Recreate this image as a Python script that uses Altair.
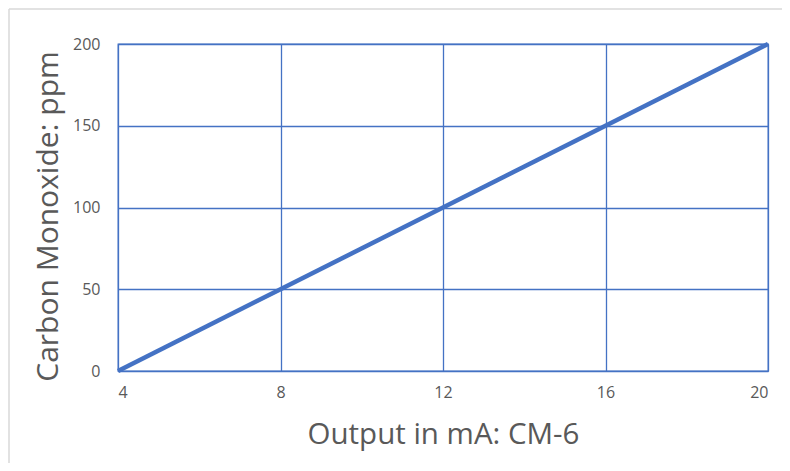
import altair as alt
import pandas as pd

# Data
output_ma = [4, 8, 12, 16, 20]
co_ppm = [0, 50, 100, 150, 200]
x_ticks = [4, 8, 12, 16, 20]
y_ticks = [0, 50, 100, 150, 200]

df = pd.DataFrame({"mA": output_ma, "ppm": co_ppm})

W, H = 650, 327
BLUE = "#4472C4"
GRAY = "#595959"
FONT = "Open Sans"

one = pd.DataFrame({"k": [0]})
frame_top = alt.Chart(one).mark_rule(
    color="#d9d9d9", strokeWidth=1.5, clip=False
).encode(x=alt.value(-109), x2=alt.value(W + 14), y=alt.value(-35))
frame_left = alt.Chart(one).mark_rule(
    color="#d9d9d9", strokeWidth=1.5, clip=False
).encode(x=alt.value(-109), y=alt.value(-35), y2=alt.value(H + 92))

line = alt.Chart(df).mark_line(color=BLUE, strokeWidth=4.5, clip=False).encode(
    x=alt.X(
        "mA:Q",
        scale=alt.Scale(domain=[4, 20], nice=False, zero=False),
        axis=alt.Axis(
            values=x_ticks, title="Output in mA: CM-6", grid=True,
            gridColor=BLUE, gridWidth=1.3, domain=False, ticks=False,
            labelFont=FONT, labelFontSize=16, labelColor=GRAY,
            labelPadding=21, labelBaseline="middle",
            titleFont=FONT, titleFontSize=29.5, titleFontWeight="normal",
            titleColor=GRAY, titleX=W / 2, titleY=72, titleBaseline="alphabetic",
            titleAlign="center",
        ),
    ),
    y=alt.Y(
        "ppm:Q",
        scale=alt.Scale(domain=[0, 200], nice=False),
        axis=alt.Axis(
            values=y_ticks, title="Carbon Monoxide: ppm", grid=True,
            gridColor=BLUE, gridWidth=1.3, domain=False, ticks=False,
            labelFont=FONT, labelFontSize=16, labelColor=GRAY,
            labelPadding=18, labelAlign="right", labelBaseline="middle",
            titleFont=FONT, titleFontSize=30, titleFontWeight="normal",
            titleColor=GRAY, titleAngle=270, titleX=-61, titleY=172,
            titleBaseline="alphabetic", titleAlign="center",
        ),
    ),
)

chart = alt.layer(frame_top, frame_left, line).properties(
    width=W, height=H,
    autosize=alt.AutoSizeParams(type="none"),
    padding={"left": 110, "top": 36, "right": 14, "bottom": 92},
    background="white",
).configure_view(stroke=BLUE, strokeWidth=1.3)

chart.save("out.html", embed_options={"renderer": "svg", "actions": False})
